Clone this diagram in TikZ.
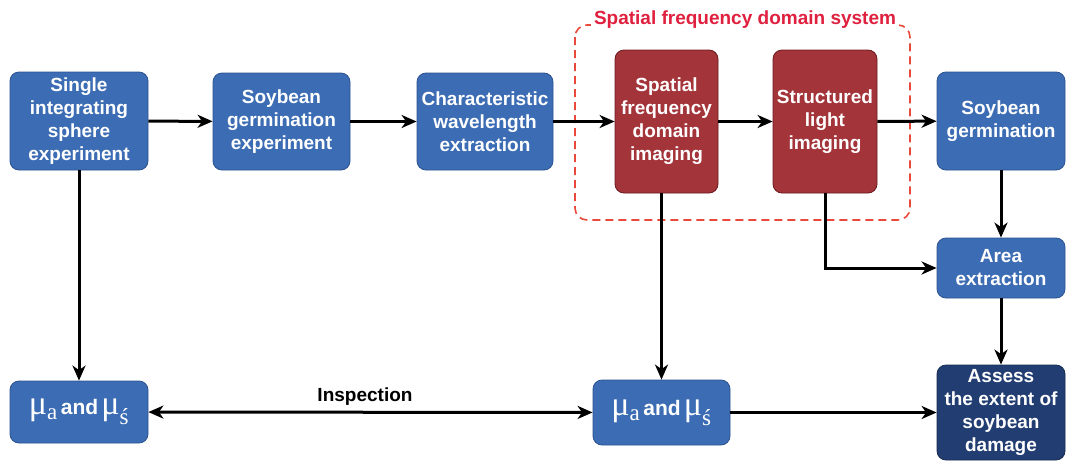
\documentclass[tikz,border=0pt]{standalone}
\usepackage{fontspec}
\setmainfont{Liberation Sans}
\newfontfamily\muf{Liberation Serif}
\usetikzlibrary{arrows.meta}
\definecolor{boxblue}{HTML}{3C6DB4}
\definecolor{boxblueb}{HTML}{2B5290}
\definecolor{boxred}{HTML}{A3343A}
\definecolor{boxredb}{HTML}{6A1A1E}
\definecolor{boxnavy}{HTML}{213D72}
\definecolor{dashred}{HTML}{E8493A}
\definecolor{titlered}{HTML}{E0203F}
\newcommand{\mumu}[1]{{\muf\mdseries\fontsize{34}{34}\selectfont μ}\ensuremath{#1}}
\newcommand{\musub}[1]{\hbox{\muf\fontsize{23}{23}\selectfont\mdseries #1}}
\newcommand{\muand}{{\fontsize{21}{21}\selectfont and}}
\tikzset{
  box/.style={draw=boxblueb, line width=0.8pt, fill=boxblue, rounded corners=9pt,
    text=white, font=\fontsize{19}{23}\selectfont\bfseries, align=center, inner sep=2pt},
  redbox/.style={box, draw=boxredb, fill=boxred},
  navybox/.style={box, draw=boxnavy!70!black, fill=boxnavy},
  tip/.tip={Stealth[length=15pt,width=13pt,inset=4.5pt]},
  arr/.style={line width=3pt, -tip},
  dbl/.style={line width=3pt, tip-tip}
}
\begin{document}
\begin{tikzpicture}[x=1pt,y=-1pt]
\useasboundingbox (0,0) rectangle (1066,461);
% dashed system frame
\draw[dashred, line width=1.6pt, dash pattern=on 8pt off 5pt, rounded corners=12pt]
  (575,25) rectangle (910,220);
\node[fill=white, inner xsep=3pt, inner ysep=1pt, text=titlered,
  font=\fontsize{19}{23}\selectfont\bfseries] (title) at (745,20) {Spatial frequency domain system};

\node[box, minimum width=138pt, minimum height=98pt] (b1) at (79,121)
  {Single\\integrating\\sphere\\experiment};
\node[box, minimum width=137pt, minimum height=97pt] (b2) at (281.5,121.5)
  {Soybean\\germination\\experiment};
\node[box, minimum width=136pt, minimum height=97pt] (b3) at (485,121.5)
  {Characteristic\\wavelength\\extraction};
\node[redbox, minimum width=103pt, minimum height=143pt] (r1) at (666.5,121.5)
  {Spatial\\frequency\\domain\\imaging};
\node[redbox, minimum width=104pt, minimum height=143pt] (r2) at (825,121.5)
  {Structured\\light\\imaging};
\node[box, minimum width=128pt, minimum height=98pt] (s4) at (1001,121)
  {Soybean\\germination};
\node[box, minimum width=128pt, minimum height=60pt] (area) at (1001,268)
  {Area\\extraction};
\node[navybox, minimum width=128pt, minimum height=95pt] (assess) at (1001,412.5)
  {Assess\\the extent of\\soybean\\damage};
\node[box, minimum width=138pt, minimum height=62pt] (mu1) at (79,412)
  {\mumu{_{\musub{a}}}\,\muand\,\mumu{_{\musub{ś}}}};
\node[box, minimum width=137pt, minimum height=65pt] (mu2) at (661.5,412.5)
  {\mumu{_{\musub{a}}}\,\muand\,\mumu{_{\musub{ś}}}};
\node[font=\fontsize{19}{23}\selectfont\bfseries] (insp) at (365,397) {Inspection};

% connectors
\draw[arr] (b1) -- (b2);
\draw[arr] (b2) -- (b3);
\draw[arr] (b3) -- (r1);
\draw[arr] (r1) -- (r2);
\draw[arr] (r2) -- (s4);
\draw[arr] (b1) -- (mu1);
\draw[arr] (mu2.north |- r1.south) -- (mu2.north);
\draw[arr] (r2.south) |- (area.west);
\draw[arr] (s4) -- (area);
\draw[arr] (area) -- (assess);
\draw[dbl] (mu1) -- (mu2);
\draw[arr] (mu2) -- (assess);
\end{tikzpicture}
\end{document}
